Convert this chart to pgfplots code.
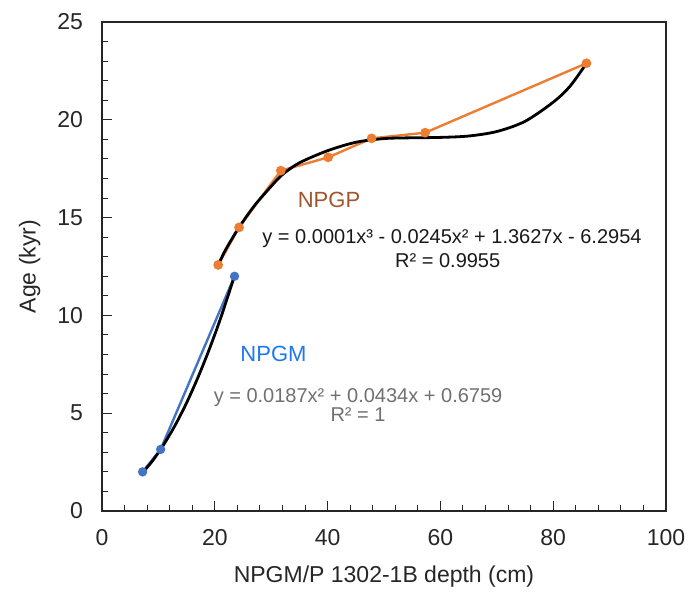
\documentclass[border=0pt]{standalone}
\usepackage{pgfplots}
\pgfplotsset{compat=1.18}
\usetikzlibrary{calc}
\usepackage{fontspec}
\setmainfont{Liberation Sans}

\definecolor{npgporange}{HTML}{ED7D31}
\definecolor{npgmblue}{HTML}{4472C4}
\definecolor{npgplabel}{RGB}{160,85,45}
\definecolor{npgmlabel}{RGB}{30,120,240}
\definecolor{eqgray}{HTML}{707070}
\definecolor{axisgray}{HTML}{262626}

\begin{document}
\begin{tikzpicture}
\begin{axis}[
  scale only axis,
  width=282pt, height=244.5pt,
  xmin=0, xmax=100, ymin=0, ymax=25,
  xtick={0,20,...,100}, ytick={0,5,...,25},
  minor x tick num=4, minor y tick num=4,
  tick align=inside, xtick pos=bottom, ytick pos=left,
  major tick length=5pt, minor tick length=3pt,
  axis line style={line width=0.6pt, axisgray},
  every tick/.style={axisgray, line width=0.5pt},
  /pgf/number format/assume math mode=true,
  ticklabel style={font=\fontsize{11.5}{13}\selectfont, text=axisgray},
  yticklabel style={xshift=-6pt},
  xticklabel style={yshift=-5.5pt},
  label style={font=\fontsize{11.5}{13}\selectfont, text=axisgray},
  xlabel={NPGM/P 1302-1B depth (cm)},
  ylabel={Age (kyr)},
  xlabel style={at={(axis description cs:0.5,-0.135)}, anchor=center},
  ylabel style={at={(axis description cs:-0.128,0.5)}, anchor=center, rotate=0},
  clip=false,
]

% NPGM tie points
\addplot[npgmblue, line width=1.2pt, mark=*, mark size=1.7pt,
  mark options={fill=npgmblue, draw=npgmblue}]
  coordinates {(7.2,2.0) (10.4,3.15) (23.5,12.0)};

% NPGP tie points
\addplot[npgporange, line width=1.2pt, mark=*, mark size=1.8pt,
  mark options={fill=npgporange, draw=npgporange}]
  coordinates {(20.6,12.58) (24.3,14.5) (31.7,17.4) (40.1,18.08)
               (47.8,19.05) (57.3,19.34) (85.9,22.89)};

% polynomial trendlines
\addplot[black, line width=1.4pt, smooth]
  coordinates {(7.2,1.96) (9,2.58) (11,3.42) (13,4.40) (15,5.53)
               (17,6.82) (19,8.25) (21,9.83) (23.5,12.02)};

\addplot[black, line width=1.4pt, smooth]
  coordinates {(20.6,12.58) (22,13.4) (24.3,14.5) (27,15.6) (30,16.6)
               (32,17.2) (35,17.8) (40,18.42) (45,18.85) (50,19.04)
               (55,19.08) (60,19.1) (65,19.17) (70,19.4) (75,19.92)
               (80,20.9) (83,21.72) (85.9,22.89)};

% labels and fit equations
\node[anchor=base, text=npgplabel, font=\fontsize{11}{13}\selectfont]
  at (axis cs:40.25,15.54) {NPGP};
\node[anchor=base, text=black!90, font=\fontsize{10}{12}\selectfont]
  at (axis cs:62.06,13.70) {y = 0.0001x³ - 0.0245x² + 1.3627x - 6.2954};
\node[anchor=base, text=black!90, font=\fontsize{10}{12}\selectfont]
  at (axis cs:61.3,12.47) {R² = 0.9955};

\node[anchor=base, text=npgmlabel, font=\fontsize{11}{13}\selectfont]
  at (axis cs:30.4,7.62) {NPGM};
\node[anchor=base, text=eqgray, font=\fontsize{10}{12}\selectfont]
  at (axis cs:45.4,5.57) {y = 0.0187x² + 0.0434x + 0.6759};
\node[anchor=base, text=eqgray, font=\fontsize{10}{12}\selectfont]
  at (axis cs:45.4,4.55) {R² = 1};
\end{axis}
\pgfresetboundingbox
\path[use as bounding box]
  ($(current axis.south west)+(-51pt,-41.5pt)$) rectangle
  ($(current axis.north east)+(15.5pt,11pt)$);
\end{tikzpicture}
\end{document}
